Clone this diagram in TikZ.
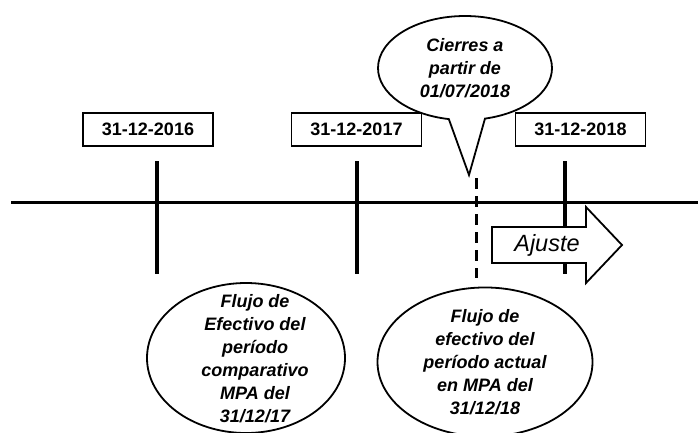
\documentclass[tikz,border=0pt]{standalone}
\usepackage{fontspec}
\setmainfont{Liberation Sans}
\usetikzlibrary{positioning}
\usetikzlibrary{shapes.geometric}
\usetikzlibrary{shapes.callouts}
\tikzset {
  % the horizontal axis and its marks
  time line/.style = {
    draw = black,
    line width = 3pt
  },
  year mark/.style = {
    draw = black,
    line width = 4pt
  },
  % start of the new rules, dashed
  cut mark/.style = {
    draw = black,
    line width = 3pt,
    dash pattern = on 11pt off 7pt
  },
  % block arrow to the right
  shift arrow/.style = {
    draw = black,
    fill = white,
    line width = 1.8pt
  }
}
\tikzset {
  date box/.style = {
    draw = black,
    line width = 1.2pt,
    inner sep = 0,
    minimum width = 130pt,
    minimum height = 33pt,
    font = \fontsize{18}{22}\selectfont\bfseries
  },
  % text inside an ellipse
  period text/.style = {
    inner sep = 0,
    align = center,
    font = \fontsize{18}{23}\selectfont\bfseries\itshape
  },
  % ellipse with a period
  period/.style = {
    period text,
    draw = black,
    fill = white,
    ellipse,
    line width = 1.8pt
  },
  % speech bubble
  note/.style = {
    period,
    ellipse callout,
    callout pointer arc = 24
  }
}

\begin{document}
\begin{tikzpicture}[x=1pt, y=-1pt]
    \useasboundingbox (0,0) rectangle (698,432);

    \coordinate (line-start) at (11,202);
    \coordinate (line-end) at (698,202);
    \coordinate (m16-top) at (157,161);
    \coordinate (m16-bot) at (157,274);
    \coordinate (m17-top) at (357,161);
    \coordinate (m17-bot) at (357,274);
    \coordinate (m18-top) at (565,161);
    \coordinate (m18-bot) at (565,274);
    \coordinate (cut-top) at (476,178);
    \coordinate (cut-bot) at (476,278);
    \coordinate (tip) at (469,175);

    \draw[time line] (line-start) -- (line-end);
    \draw[year mark] (m16-top) -- (m16-bot);
    \draw[year mark] (m17-top) -- (m17-bot);
    \draw[year mark] (m18-top) -- (m18-bot);
    \draw[cut mark] (cut-top) -- (cut-bot);

    \draw[shift arrow] (492,227)
    -- (586,227)
    -- (586,207)
    -- (622,245)
    -- (586,283)
    -- (586,263)
    -- (492,263)
    -- cycle;
    \node[font = \fontsize{23.5}{28}\selectfont\itshape] (adjust) at (547,245) {Ajuste};

    \node[date box] (d16) at (148,129.5) {31-12-2016};
    \node[date box] (d17) at (356.5,129.5) {31-12-2017};
    \node[date box] (d18) at (580.5,129.5) {31-12-2018};

    \node[note, minimum width = 174pt, minimum height = 104pt,
      callout absolute pointer = {(tip)}] (closing) at (465,68)
      {Cierres a\\partir de\\01/07/2018};

    \node[period, minimum width = 198pt, minimum height = 150pt] (comparative) at (246,358) {};
    \node[period text] (comparative-text) at (255,359)
      {Flujo de\\Efectivo del\\período\\comparativo\\MPA del\\31/12/17};
    \node[period, minimum width = 215pt, minimum height = 140pt] (current) at (485,362)
      {Flujo de\\efectivo del\\período actual\\en MPA del\\31/12/18};
  \end{tikzpicture}
\end{document}
